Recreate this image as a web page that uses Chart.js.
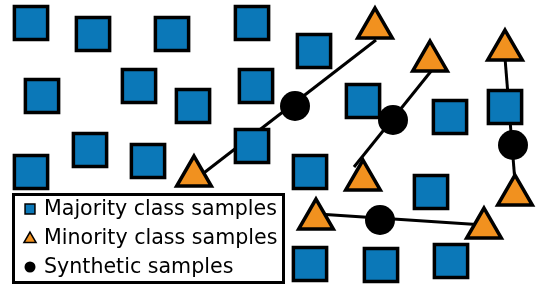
<!DOCTYPE html>
<html>
<head>
<meta charset="utf-8">
<script src="https://cdn.jsdelivr.net/npm/chart.js@4/dist/chart.umd.min.js"></script>
<style>
  html, body { margin: 0; padding: 0; background: #fff; }
  #wrap { width: 537px; height: 287px; }
</style>
</head>
<body>
<div id="wrap"><canvas id="smoteChart" width="537" height="287"></canvas></div>
<script>
// Sample positions (same units as the picture, y grows downwards)
var majorityX = [31, 93, 172, 252, 42, 139, 193, 256, 90, 148, 252, 31, 314, 363, 450, 505, 310, 431, 310, 381, 451];
var majorityY = [23, 34, 34, 23, 96, 86, 106, 86, 150, 161, 146, 172, 51, 101, 117, 107, 172, 192, 264, 265, 261];

var minorityX = [375, 430, 505, 194, 363, 316, 484, 515];
var minorityY = [28, 61, 50, 176, 180, 219, 228, 195];

var syntheticX = [295, 393, 513, 380];
var syntheticY = [106, 120, 145, 220];

// Interpolation segments between minority pairs
var segA = [[196, 179], [376, 40]];
var segB = [[354, 167], [432, 70]];
var segC = [[505, 58], [515, 182]];
var segD = [[318, 214], [484, 225]];

var legendLabels = ['Majority class samples', 'Minority class samples', 'Synthetic samples'];

var blue = '#0b78b8';
var orange = '#f1911f';

function toPoints(xs, ys) {
    return xs.map(function(x, i) { return { x: x, y: ys[i] }; });
}
function segPoints(seg) {
    return seg.map(function(p) { return { x: p[0], y: p[1] }; });
}

function lineSet(seg) {
    return {
        type: 'line',
        data: segPoints(seg),
        borderColor: '#000',
        borderWidth: 3,
        pointRadius: 0,
        fill: false,
        order: 10
    };
}

// Legend box drawn inside the plot
var boxLegend = {
    id: 'boxLegend',
    afterDraw: function(chart) {
        var ctx = chart.ctx;
        ctx.save();
        ctx.fillStyle = '#fff';
        ctx.fillRect(13, 194, 271, 89);
        ctx.lineWidth = 3;
        ctx.strokeStyle = '#000';
        ctx.strokeRect(13.5, 194.5, 270, 88);

        var rows = [215, 244, 273];
        var styles = ['rect', 'triangle', 'circle'];
        var fills = [blue, orange, '#000'];
        var radii = [7, 7, 5.5];
        for (var i = 0; i < 3; i++) {
            ctx.fillStyle = fills[i];
            ctx.strokeStyle = '#000';
            ctx.lineWidth = i < 2 ? 1.5 : 0;
            Chart.helpers.drawPoint(ctx, {
                pointStyle: styles[i],
                radius: radii[i],
                borderWidth: i < 2 ? 1.5 : 0,
                rotation: 0
            }, 30, rows[i] - 6 + (i === 1 ? 1 : 0));
            ctx.fillStyle = '#000';
            ctx.font = '20.6px "DejaVu Sans"';
            ctx.textBaseline = 'alphabetic';
            ctx.fillText(legendLabels[i], 44, rows[i]);
        }
        ctx.restore();
    }
};

var chart = new Chart(document.getElementById('smoteChart').getContext('2d'), {
    type: 'scatter',
    data: {
        datasets: [{
            label: legendLabels[2],
            data: toPoints(syntheticX, syntheticY),
            pointStyle: 'circle',
            pointRadius: 15,
            backgroundColor: '#000',
            borderColor: '#000',
            borderWidth: 0,
            order: 1
        }, {
            label: legendLabels[1],
            data: toPoints(minorityX, minorityY),
            pointStyle: 'triangle',
            pointRadius: 20,
            backgroundColor: orange,
            borderColor: '#000',
            borderWidth: 3.5,
            order: 2
        }, {
            label: legendLabels[0],
            data: toPoints(majorityX, majorityY),
            pointStyle: 'rect',
            pointRadius: 23.5,
            backgroundColor: blue,
            borderColor: '#000',
            borderWidth: 3.5,
            order: 3
        },
        lineSet(segA), lineSet(segB), lineSet(segC), lineSet(segD)]
    },
    options: {
        responsive: false,
        animation: false,
        layout: { padding: 0, autoPadding: false },
        plugins: {
            legend: { display: false },
            tooltip: { enabled: false }
        },
        scales: {
            x: { type: 'linear', min: 0, max: 537, display: false },
            y: { type: 'linear', min: 0, max: 287, reverse: true, display: false }
        }
    },
    plugins: [boxLegend]
});
</script>
</body>
</html>
